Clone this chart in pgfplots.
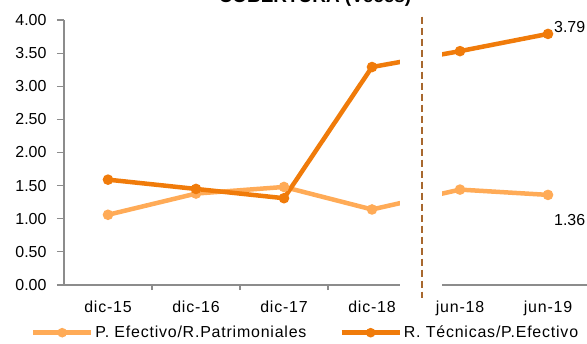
\documentclass[border=0pt]{standalone}
\usepackage{fontspec}
\setmainfont{Liberation Sans}
\usepackage{pgfplots}
\pgfplotsset{compat=1.18}
\definecolor{lightor}{HTML}{FFAB57}
\definecolor{darkor}{HTML}{F07B0A}
\definecolor{axgray}{HTML}{8C8C8C}
\definecolor{brk}{HTML}{A8682E}
\begin{document}
\begin{tikzpicture}
\begin{axis}[
  at={(64bp,59bp)}, anchor=south west,
  scale only axis, width=528bp, height=265bp,
  xmin=-0.5, xmax=5.5, ymin=0, ymax=4,
  clip=false,
  axis x line=bottom, axis y line=left,
  axis line style={axgray, line width=1.2bp, -},
  tick align=outside,
  tick style={axgray, line width=1.2bp},
  xtick={0,...,5},
  xticklabels={dic-15,dic-16,dic-17,dic-18,jun-18,jun-19},
  minor xtick={0.5,1.5,2.5,3.5},
  major x tick style={draw=none},
  minor tick length=5bp,
  ytick={0,0.5,...,4},
  major tick length=7bp,
  /pgf/number format/assume math mode=true,
  ticklabel style={font=\fontsize{16}{19}\selectfont},
  yticklabel style={xshift=-7bp, /pgf/number format/.cd, fixed, fixed zerofill, precision=2},
  xticklabel style={font=\fontsize{16}{19}\selectfont\addfontfeature{LetterSpace=5}, yshift=-5bp},
  legend style={draw=none, fill=none, legend columns=2,
    at={(axis description cs:-0.063,-0.18)}, anchor=west, inner sep=0pt,
    font=\fontsize{16}{19}\selectfont\addfontfeature{LetterSpace=5},
    /tikz/every even column/.append style={column sep=31bp}},
  legend image code/.code={\draw[#1, line width=4.5bp] (0bp,0bp) -- (58bp,0bp); \fill[#1] (29bp,0bp) circle (2.4bp);},
]
\addplot[lightor, line width=4.5bp, mark=*, mark size=2.9bp, mark options={solid}]
  coordinates {(0,1.06) (1,1.38) (2,1.48) (3,1.14) (4,1.44) (5,1.36)};
\addlegendentry{P. Efectivo/R.Patrimoniales}
\addplot[darkor, line width=4.5bp, mark=*, mark size=2.9bp, mark options={solid}]
  coordinates {(0,1.59) (1,1.45) (2,1.31) (3,3.29) (4,3.53) (5,3.79)};
\addlegendentry{R. Técnicas/P.Efectivo}
\fill[white] (axis cs:3.318,-0.12) rectangle (axis cs:3.795,4.1);
\draw[brk, line width=1.6bp, dash pattern=on 7bp off 4bp] (axis cs:3.568,4.05) -- (axis cs:3.568,-0.2);
\node[anchor=west, font=\fontsize{16}{19}\selectfont, inner sep=0pt] at (axis cs:5,3.79) [xshift=6bp, yshift=7bp] {3.79};
\node[anchor=west, font=\fontsize{16}{19}\selectfont, inner sep=0pt] at (axis cs:5,1.36) [xshift=6bp, yshift=-25bp] {1.36};
\end{axis}
\node[anchor=base, font=\fontsize{19}{22}\selectfont\bfseries, inner sep=0pt] at (315bp,341bp) {COBERTURA (Veces)};
\pgfresetboundingbox
\useasboundingbox (0,0) rectangle (587bp,344bp);
\end{tikzpicture}
\end{document}
